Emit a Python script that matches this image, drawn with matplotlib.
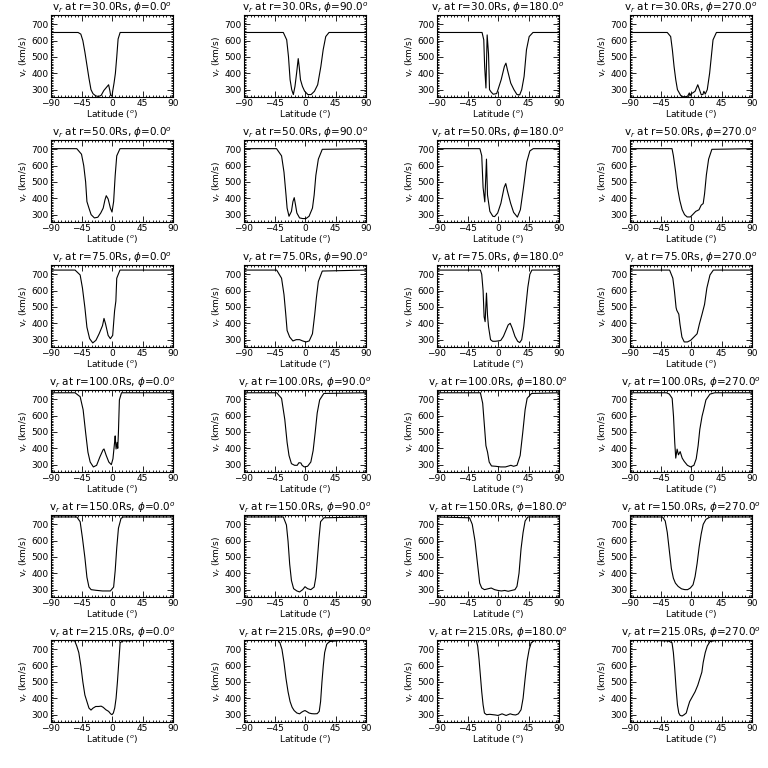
import numpy as np
import matplotlib
matplotlib.use("Agg")
from matplotlib import pyplot as plt
from matplotlib.ticker import MultipleLocator

# Radial distances and longitudes of the panels
radii = [30.0, 50.0, 75.0, 100.0, 150.0, 215.0]
phis = [0.0, 90.0, 180.0, 270.0]

# ---- r = 30 Rs ----
lat_r30_p0 = [-90, -50, -46, -43, -40, -37, -34, -31, -28, -24, -20, -16, -12, -9, -5, -3, -2, 0, 1, 3, 5, 7, 9, 12, 90]
v_r30_p0 = [650, 650, 640, 600, 530, 450, 370, 300, 275, 262, 258, 265, 295, 310, 330, 290, 265, 260, 290, 340, 400, 500, 610, 650, 650]
lat_r30_p90 = [-90, -32, -27, -24.4, -22, -19.6, -17.2, -14.8, -12.4, -10, -8.6, -6.7, -3.8, -0.5, 4.3, 9, 13.9, 18.7, 23.4, 26.8, 30.6, 35.4, 90]
v_r30_p90 = [650, 650, 605, 503, 361, 300, 270, 320, 401, 490, 442, 361, 320, 290, 270, 270, 290, 330, 442, 544, 625, 650, 650]
lat_r30_p180 = [-90, -23.5, -21, -19.7, -17.8, -16, -14, -12.5, -10, -7, -2, 0, 4.7, 9.4, 11.7, 14, 18.8, 23.5, 28, 32, 35, 38.5, 42, 46, 51.6, 90]
v_r30_p180 = [650, 650, 605, 442, 310, 635, 520, 300, 285, 272, 276, 300, 361, 442, 462, 420, 340, 300, 270, 268, 300, 381, 544, 625, 650, 650]
lat_r30_p270 = [-90, -35, -30, -27.5, -25, -22.5, -20, -15, -10, -5, -2.5, -1.5, 0, 2.5, 6, 10, 12.5, 15, 17.5, 19, 21, 24, 27.5, 30, 32.5, 37.5, 90]
v_r30_p270 = [650, 650, 625, 544, 442, 361, 300, 263, 255, 260, 280, 262, 275, 280, 290, 330, 300, 270, 270, 290, 273, 300, 401, 503, 605, 650, 650]

# ---- r = 50 Rs ----
lat_r50_p0 = [-90, -52, -45, -41.7, -38.9, -37, -34, -30.8, -26, -21, -16.6, -13, -10.4, -8.5, -5.7, -2.4, 0, 2.4, 4.7, 7, 11.8, 90]
v_r50_p0 = [704, 704, 670, 600, 500, 380, 340, 300, 280, 284, 310, 340, 390, 416, 396, 340, 316, 380, 540, 660, 704, 704]
lat_r50_p90 = [-90, -42, -34.6, -31, -28, -26.4, -23.6, -20, -17.8, -15.9, -14, -12, -8, -3.4, 1.4, 6, 11, 13.5, 16, 19.7, 25.5, 90]
v_r50_p90 = [704, 704, 660, 560, 420, 340, 290, 320, 380, 404, 360, 310, 280, 276, 276, 290, 340, 420, 540, 640, 700, 704]
lat_r50_p180 = [-90, -26.7, -24, -22, -19.5, -17, -15.5, -12, -7.6, -5, -0.5, 4.3, 9, 11.4, 13.8, 18.6, 23, 28.6, 33, 37.6, 42.4, 47, 52, 90]
v_r50_p180 = [704, 704, 661, 466, 378, 640, 420, 320, 290, 288, 310, 370, 466, 490, 446, 370, 314, 285, 330, 466, 622, 690, 704, 704]
lat_r50_p270 = [-90, -28, -26, -22.7, -20, -16.6, -13, -9.5, -5.7, -1, 2.4, 7, 11.8, 15, 18, 20, 22.7, 26, 30.8, 90]
v_r50_p270 = [704, 704, 661, 563, 466, 388, 330, 300, 286, 286, 300, 320, 330, 358, 368, 427, 544, 640, 700, 704]

# ---- r = 75 Rs ----
lat_r75_p0 = [-90, -54.5, -47, -43.6, -40, -37, -33, -28.4, -23.7, -19, -14, -11.8, -9.5, -5.7, -2.4, 1, 3.8, 5.7, 7, 11.8, 90]
v_r75_p0 = [726, 726, 696, 616, 496, 376, 306, 280, 296, 336, 386, 430, 396, 326, 306, 326, 476, 536, 676, 726, 726]
lat_r75_p90 = [-90, -41.8, -34.6, -31, -28.4, -26.4, -22.6, -17.8, -13, -8, -3.4, 1.4, 6.2, 11, 14.4, 16.8, 19.7, 25.5, 90]
v_r75_p90 = [726, 726, 676, 576, 456, 356, 316, 292, 300, 300, 292, 286, 292, 336, 456, 556, 656, 720, 726]
lat_r75_p180 = [-90, -26, -24, -22, -20.5, -19, -17, -15.5, -14, -11, -8, -4, 0, 4, 8, 12, 15, 18, 21, 25, 29, 32, 35, 38, 41, 44, 47, 50, 90]
v_r75_p180 = [726, 726, 700, 600, 440, 410, 585, 450, 380, 300, 290, 290, 292, 295, 320, 360, 390, 400, 370, 320, 290, 282, 300, 380, 500, 620, 700, 726, 726]
lat_r75_p270 = [-90, -31.6, -26.8, -24.4, -22, -21, -18, -16.3, -13.4, -10, -5.3, -0.5, 4.3, 9, 12.4, 16.3, 20, 23.4, 28, 33, 90]
v_r75_p270 = [726, 726, 676, 596, 496, 480, 456, 396, 316, 286, 286, 296, 316, 336, 396, 456, 516, 616, 696, 726, 726]

# ---- r = 100 Rs ----
lat_r100_p0 = [-90, -54.5, -47, -42.6, -38.9, -35.5, -32.2, -27.5, -22.7, -18, -13.3, -11.8, -8.5, -4.7, -1, 1.4, 3.8, 4.7, 6, 7.6, 8.5, 9.5, 10.9, 14, 90]
v_r100_p0 = [740, 740, 716, 636, 496, 376, 316, 286, 296, 346, 390, 396, 356, 316, 300, 336, 436, 476, 396, 436, 400, 500, 696, 740, 740]
lat_r100_p90 = [-90, -41.8, -34.6, -29.8, -26.4, -23.6, -20, -15.4, -11.5, -9, -6, -4.3, -1, 3.8, 8.6, 12, 15, 18, 21.6, 27.8, 90]
v_r100_p90 = [740, 740, 706, 576, 436, 356, 306, 296, 296, 312, 310, 296, 286, 290, 316, 386, 496, 616, 696, 736, 740]
lat_r100_p180 = [-90, -26, -22.6, -20, -17.8, -15.4, -13, -9.6, -3.4, 3.8, 11, 15.9, 19, 23, 28, 32.7, 36.5, 40, 43, 49.5, 90]
v_r100_p180 = [740, 740, 676, 536, 416, 376, 316, 292, 290, 286, 286, 292, 296, 290, 296, 356, 496, 636, 706, 736, 740]
lat_r100_p270 = [-90, -36, -32, -27.8, -25.8, -24, -22.5, -20.5, -18.5, -16, -13, -10, -5.3, -0.5, 4.3, 7.7, 10.5, 13, 16.3, 18.7, 22, 28, 35, 90]
v_r100_p270 = [740, 740, 732, 706, 596, 436, 340, 395, 360, 380, 340, 320, 296, 286, 296, 336, 416, 516, 596, 636, 696, 732, 740, 740]

# ---- r = 150 Rs ----
lat_r150_p0 = [-90, -52, -47, -43.6, -40, -37, -34, -30.8, -23.7, -14, -2.4, 2.4, 4.7, 7, 9.5, 13.3, 16.6, 90]
v_r150_p0 = [745, 745, 716, 616, 496, 376, 316, 300, 296, 292, 292, 316, 416, 556, 676, 736, 745, 745]
lat_r150_p90 = [-90, -32, -27.4, -25, -22.6, -20, -16.8, -12, -8, -3.4, 0, 3.8, 8.6, 13.5, 16, 18, 20.7, 23, 28, 90]
v_r150_p90 = [745, 745, 696, 596, 456, 356, 306, 292, 286, 300, 318, 306, 300, 316, 376, 476, 616, 716, 740, 745]
lat_r150_p180 = [-90, -42, -38, -34, -30, -27, -24, -20, -15, -10, -5, 0, 5, 10, 15, 20, 25, 28, 31, 34, 37, 40, 44, 90]
v_r150_p180 = [745, 740, 700, 600, 450, 340, 310, 300, 305, 310, 300, 295, 292, 295, 290, 295, 300, 320, 400, 550, 650, 720, 745, 745]
lat_r150_p270 = [-90, -42, -38, -35, -32, -29, -26, -23, -19, -14, -9, -5, -1, 3, 6, 9, 12, 15, 18, 22, 28, 90]
v_r150_p270 = [745, 745, 720, 650, 540, 430, 370, 340, 320, 305, 300, 300, 310, 330, 380, 460, 560, 640, 700, 730, 745, 745]

# ---- r = 215 Rs ----
lat_r215_p0 = [-90, -86, -83, -55, -52, -49, -46, -43, -40, -37, -34, -31, -28, -24, -20, -16, -13, -9, -5, -2, 0, 2, 4, 6, 8, 10, 12, 16, 28, 31, 90]
v_r215_p0 = [760, 752, 760, 752, 720, 680, 600, 500, 420, 380, 340, 328, 340, 350, 350, 352, 345, 330, 320, 305, 300, 310, 340, 400, 500, 620, 740, 752, 752, 760, 760]
lat_r215_p90 = [-90, -40, -37, -34, -31, -28, -25, -22, -19, -16, -12, -8, -5, -2, 0, 3, 6, 10, 14, 18, 21, 23, 25, 27, 29, 32, 36, 48, 52, 90]
v_r215_p90 = [760, 755, 740, 700, 620, 520, 440, 380, 345, 325, 310, 305, 315, 322, 325, 318, 310, 306, 305, 306, 320, 380, 500, 600, 680, 730, 748, 752, 760, 760]
lat_r215_p180 = [-90, -32, -30, -28, -26, -24, -22, -20, -17, -12, -8, -4, 0, 3, 6, 9, 12, 15, 18, 22, 26, 30, 34, 37, 40, 43, 46, 49, 53, 58, 90]
v_r215_p180 = [760, 755, 720, 640, 540, 440, 360, 310, 300, 302, 300, 298, 295, 300, 305, 300, 295, 300, 305, 300, 298, 305, 330, 400, 520, 630, 700, 740, 752, 760, 760]
lat_r215_p270 = [-90, -40, -34, -28, -26, -24, -22, -20, -18, -16, -13, -10, -7, -5, -2, 2, 6, 10, 13, 16, 18, 21, 24, 28, 34, 40, 90]
v_r215_p270 = [760, 752, 752, 740, 680, 580, 460, 360, 310, 295, 292, 300, 310, 340, 380, 410, 440, 480, 520, 560, 620, 680, 720, 748, 752, 760, 760]

profiles = [
    [(lat_r30_p0, v_r30_p0), (lat_r30_p90, v_r30_p90), (lat_r30_p180, v_r30_p180), (lat_r30_p270, v_r30_p270)],
    [(lat_r50_p0, v_r50_p0), (lat_r50_p90, v_r50_p90), (lat_r50_p180, v_r50_p180), (lat_r50_p270, v_r50_p270)],
    [(lat_r75_p0, v_r75_p0), (lat_r75_p90, v_r75_p90), (lat_r75_p180, v_r75_p180), (lat_r75_p270, v_r75_p270)],
    [(lat_r100_p0, v_r100_p0), (lat_r100_p90, v_r100_p90), (lat_r100_p180, v_r100_p180), (lat_r100_p270, v_r100_p270)],
    [(lat_r150_p0, v_r150_p0), (lat_r150_p90, v_r150_p90), (lat_r150_p180, v_r150_p180), (lat_r150_p270, v_r150_p270)],
    [(lat_r215_p0, v_r215_p0), (lat_r215_p90, v_r215_p90), (lat_r215_p180, v_r215_p180), (lat_r215_p270, v_r215_p270)],
]

fig = plt.figure(figsize=(7.68, 7.68), dpi=100)

W = 768.0
for j, r in enumerate(radii):
    for i, phi in enumerate(phis):
        left = (51 + 193 * i) / W
        bottom = 1 - (97 + 125 * j) / W
        ax = fig.add_axes([left, bottom, 122 / W, 82 / W])
        lat, v = profiles[j][i]
        ax.plot(lat, v, color="black", linewidth=0.8)
        ax.set_xlim(-90, 90)
        ax.set_ylim(255, 757)
        ax.xaxis.set_major_locator(MultipleLocator(45))
        ax.xaxis.set_minor_locator(MultipleLocator(5))
        ax.yaxis.set_major_locator(MultipleLocator(100))
        ax.yaxis.set_minor_locator(MultipleLocator(10))
        ax.tick_params(which="both", direction="in", top=True, right=True,
                       labelsize=6.5, width=0.6, pad=1.5)
        ax.tick_params(which="major", length=4)
        ax.tick_params(which="minor", length=1.5)
        for s in ax.spines.values():
            s.set_linewidth(0.8)
        ax.set_title(rf"v$_r$ at r={r:.1f}Rs, $\phi$={phi:.1f}$^o$", fontsize=7.5, pad=1.5)
        ax.set_xlabel(r"Latitude ($^o$)", fontsize=6.5, labelpad=0)
        ax.set_ylabel(r"v$_r$ (km/s)", fontsize=6.5, labelpad=1)

fig.savefig("out.png", dpi=100, facecolor="white")
